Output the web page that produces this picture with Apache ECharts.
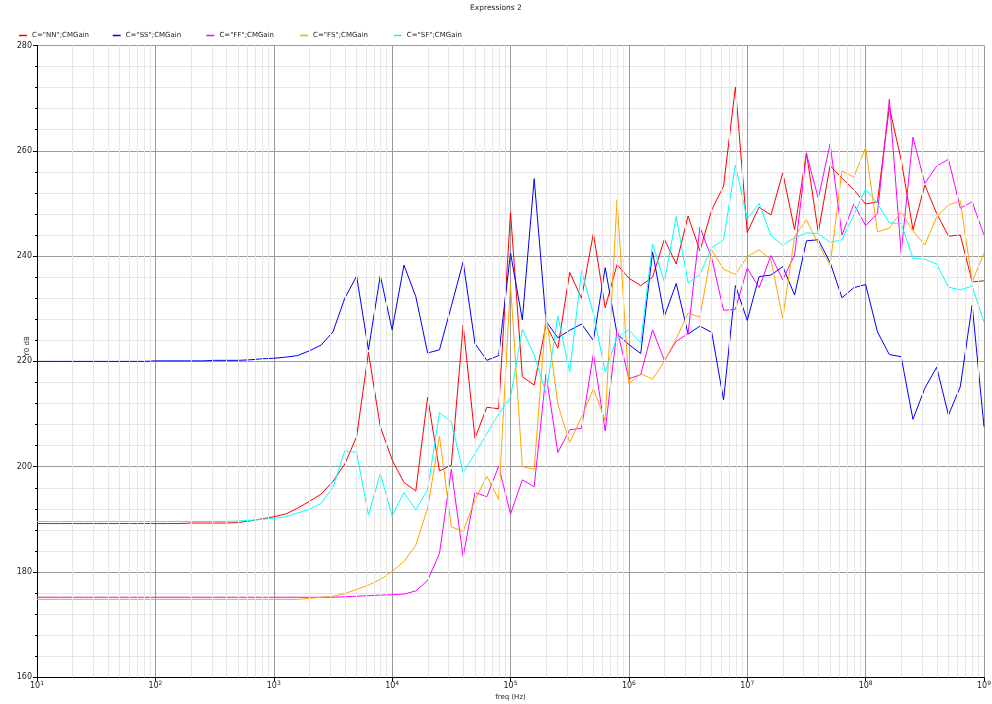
<!DOCTYPE html>
<html>
<head>
<meta charset="utf-8">
<script src="https://cdn.jsdelivr.net/npm/echarts@6/dist/echarts.min.js"></script>
<style>
html,body{margin:0;padding:0;background:#fff;}
#chart{width:992px;height:704px;}
</style>
</head>
<body>
<div id="chart"></div>
<script>
// Frequency sweep: 10 points per decade, 10 Hz .. 1 GHz
const freq = Array.from({length: 81}, (_, i) => Math.pow(10, 1 + i / 10));

const seriesNames = ['C="NN";CMGain', 'C="SS";CMGain', 'C="FF";CMGain', 'C="FS";CMGain', 'C="SF";CMGain'];

const valsNN = [
  189.2,189.2,189.2,189.2,189.2,189.2,189.2,189.2,189.2,189.2,
  189.2,189.2,189.2,189.3,189.3,189.3,189.3,189.4,189.7,190.1,
  190.5,191.0,192.1,193.4,194.8,197.2,200.5,205.7,221.7,207.6,
  201.3,197.0,195.4,213.2,199.2,200.3,226.9,205.4,211.3,211.0,
  248.3,217.1,215.5,227.0,222.5,236.9,232.0,244.3,230.2,238.4,
  235.8,234.4,236.0,243.2,238.5,247.6,241.0,248.8,253.3,272.1,
  244.5,249.3,247.8,255.8,245.0,259.6,244.5,257.2,254.8,252.6,
  249.9,250.3,268.3,258.3,245.0,253.5,248.1,243.8,244.0,235.1,
  235.3
];
const valsSS = [
  220.0,220.0,220.0,220.0,220.0,220.0,220.0,220.0,220.0,220.0,
  220.1,220.1,220.1,220.1,220.1,220.2,220.2,220.2,220.3,220.5,
  220.6,220.8,221.1,222.0,223.1,225.6,232.0,236.2,222.2,236.3,
  226.0,238.3,232.3,221.6,222.2,230.5,238.9,223.4,220.2,221.1,
  240.6,227.9,254.7,227.6,224.5,225.9,227.1,224.0,237.8,225.2,
  223.2,221.5,240.8,228.6,234.8,225.2,226.7,225.5,212.7,234.4,
  227.8,236.1,236.4,238.0,232.6,242.9,243.1,238.8,232.1,234.0,
  234.6,225.6,221.3,220.9,209.0,214.9,218.9,209.8,215.2,230.7,
  207.6
];
const valsFF = [
  175.2,175.2,175.2,175.2,175.2,175.2,175.2,175.2,175.2,175.2,
  175.2,175.2,175.2,175.2,175.2,175.2,175.2,175.2,175.2,175.2,
  175.2,175.2,175.2,175.2,175.2,175.2,175.3,175.4,175.5,175.6,
  175.7,175.8,176.4,178.4,183.5,199.5,182.9,195.1,194.3,200.1,
  191.0,197.5,196.2,217.6,202.7,207.0,207.3,221.4,206.8,226.0,
  216.7,217.5,226.0,220.2,223.8,225.3,245.5,239.6,229.7,229.9,
  237.7,234.0,240.1,235.5,240.2,259.4,251.0,261.3,244.0,249.9,
  245.8,248.1,269.8,240.6,262.6,253.8,257.1,258.4,249.1,250.3,
  244.0
];
const valsFS = [
  174.8,174.8,174.8,174.8,174.8,174.8,174.8,174.8,174.8,174.8,
  174.8,174.8,174.8,174.8,174.8,174.8,174.8,174.8,174.8,174.8,
  174.8,174.8,174.8,175.0,175.2,175.4,175.9,176.7,177.5,178.6,
  180.1,182.0,185.1,192.1,205.8,188.6,187.7,193.7,198.2,193.8,
  234.7,200.0,199.5,229.0,211.8,204.6,209.4,214.8,208.8,250.7,
  215.7,217.7,216.6,220.0,224.3,229.2,228.4,241.1,237.5,236.5,
  239.9,241.2,239.3,228.2,243.7,246.9,242.3,238.3,256.2,255.0,
  260.6,244.6,245.3,248.4,244.8,242.1,247.5,249.7,250.5,235.1,
  240.6
];
const valsSF = [
  189.6,189.6,189.6,189.6,189.6,189.6,189.6,189.6,189.6,189.6,
  189.6,189.6,189.6,189.6,189.6,189.6,189.6,189.7,189.8,190.0,
  190.2,190.5,191.2,191.9,193.0,196.1,203.0,202.7,190.8,198.7,
  190.6,195.1,191.8,195.7,210.3,208.5,198.9,202.5,206.3,210.0,
  213.2,226.1,221.2,213.9,228.6,218.0,237.2,229.1,218.0,224.6,
  226.0,223.5,242.3,235.1,247.5,234.9,236.5,241.6,243.1,257.3,
  247.0,250.0,243.9,242.1,243.5,244.4,244.3,242.6,243.1,247.8,
  252.7,250.0,246.3,246.2,239.6,239.4,238.5,234.1,233.6,234.3,
  227.5
];

const seriesValues = [valsNN, valsSS, valsFF, valsFS, valsSF];
const seriesColors = ['#ff0000', '#0000ff', '#ff00ff', '#ffa500', '#00ffff'];

// minor log grid positions (2..9 x 10^k)
const minorX = [];
for (let k = 1; k <= 8; k++) for (let m = 2; m <= 9; m++) minorX.push(m * Math.pow(10, k));

const chart = echarts.init(document.getElementById('chart'), null, {renderer: 'canvas'});

const FONT = 'DejaVu Sans';

const series = seriesNames.map((name, s) => ({
  name: name,
  type: 'line',
  data: freq.map((f, i) => [f, seriesValues[s][i]]),
  symbol: 'none',
  showSymbol: false,
  lineStyle: {width: 1, color: seriesColors[s]},
  itemStyle: {color: seriesColors[s]},
  z: 3,
  animation: false
}));

series.unshift({
  name: '__minorgrid',
  type: 'line',
  data: [],
  silent: true,
  z: 1,
  animation: false,
  markLine: {
    silent: true,
    symbol: 'none',
    animation: false,
    label: {show: false},
    lineStyle: {color: '#e6e6e6', width: 1, type: 'solid'},
    emphasis: {disabled: true},
    data: minorX.map(v => ({xAxis: v}))
  }
});

const legendLeft = [19, 112.7, 206.4, 300.1, 393.8];
const legends = seriesNames.map((name, s) => ({
  data: [name],
  left: legendLeft[s],
  top: 32,
  padding: 0,
  itemWidth: 8,
  itemHeight: 1.5,
  icon: 'rect',
  selectedMode: false,
  textStyle: {fontFamily: FONT, fontSize: 7, color: '#222'}
}));

chart.setOption({
  animation: false,
  backgroundColor: '#ffffff',
  title: {
    text: 'Expressions 2',
    left: 'center',
    top: 4,
    padding: 0,
    textStyle: {fontFamily: FONT, fontSize: 7.5, fontWeight: 'normal', color: '#222'}
  },
  legend: legends,
  grid: {left: 37, right: 8, top: 45.5, bottom: 26.7, containLabel: false, outerBoundsMode: 'none'},
  xAxis: {
    type: 'log',
    logBase: 10,
    min: 10,
    max: 1e9,
    name: 'freq (Hz)',
    nameLocation: 'middle',
    nameGap: 16,
    nameMoveOverlap: false,
    nameTextStyle: {fontFamily: FONT, fontSize: 7, color: '#222'},
    axisLine: {show: true, lineStyle: {color: '#000', width: 1}},
    axisTick: {show: true, length: 4, lineStyle: {color: '#000'}},
    axisLabel: {
      margin: 3,
      formatter: function (v) {
        const e = Math.round(Math.log10(v));
        return '{b|10}{s|' + e + '}';
      },
      rich: {
        b: {fontFamily: FONT, fontSize: 8, color: '#222'},
        s: {fontFamily: FONT, fontSize: 6, color: '#222', padding: [0, 0, 6, 0]}
      }
    },
    splitLine: {show: true, lineStyle: {color: '#9a9a9a', width: 1}}
  },
  yAxis: {
    type: 'value',
    min: 160,
    max: 280,
    interval: 20,
    name: 'Y0 dB',
    nameLocation: 'middle',
    nameRotate: 90,
    nameGap: 6,
    nameMoveOverlap: false,
    nameTextStyle: {fontFamily: FONT, fontSize: 7, color: '#222', padding: [0, 0, 0, 30]},
    axisLine: {show: true, lineStyle: {color: '#000', width: 1}},
    axisTick: {show: true, length: 4, lineStyle: {color: '#000'}},
    minorTick: {show: true, splitNumber: 5, length: 2, lineStyle: {color: '#000'}},
    axisLabel: {margin: 5, fontFamily: FONT, fontSize: 8, color: '#222'},
    splitLine: {show: true, lineStyle: {color: '#9a9a9a', width: 1}},
    minorSplitLine: {show: true, lineStyle: {color: '#e6e6e6', width: 1}}
  },
  series: series
});
</script>
</body>
</html>
